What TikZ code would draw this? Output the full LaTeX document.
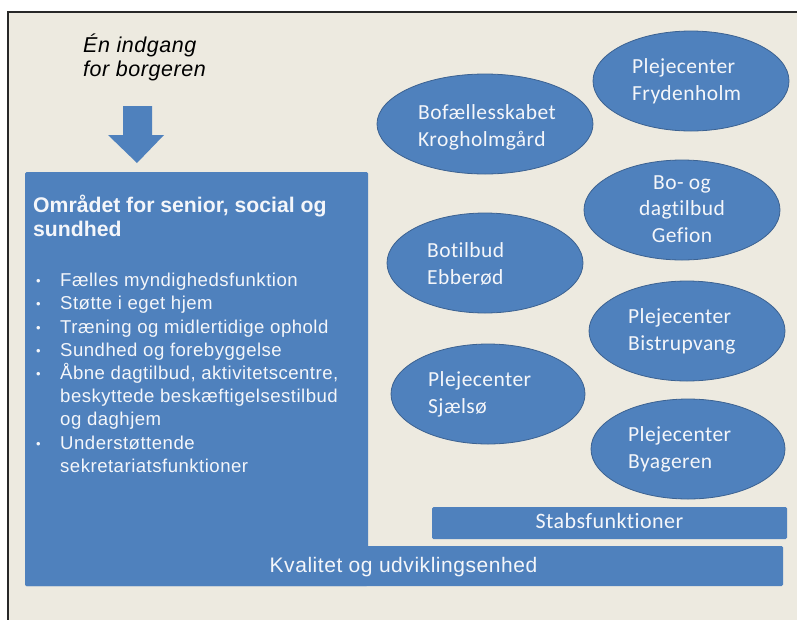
\documentclass[tikz,border=0pt]{standalone}
\usepackage{fontspec}
\setmainfont{Liberation Sans}
\newfontfamily\calfont[Ligatures=NoCommon,LetterSpace=2]{Carlito}
\newfontfamily\widefont[LetterSpace=2.6]{Liberation Sans}
\usetikzlibrary{shapes.geometric}
\definecolor{bg}{RGB}{237,234,224}
\definecolor{ofblue}{RGB}{79,129,189}
\definecolor{ofedge}{RGB}{60,98,145}
\definecolor{wtxt}{RGB}{244,246,250}
\tikzset{
  blk/.style={fill=ofblue, draw=none, rounded corners=1.5pt, inner sep=0pt},
  bubble/.style={ellipse, fill=ofblue, draw=ofedge, line width=0.8pt, inner sep=0pt},
  btxt/.style={text=wtxt, font=\calfont\fontsize{21.5}{26.5}\selectfont, inner sep=0pt, align=left, anchor=base west},
}
\begin{document}
\begin{tikzpicture}[x=1pt,y=-1pt]
\useasboundingbox (0,0) rectangle (797,619);
\fill[white] (0,0) rectangle (797,619);
\fill[bg] (8,12) rectangle (800,625);
\draw[line width=1.5pt, draw={rgb,255:red,40;green,40;blue,40}] (800,12) -- (8,12) -- (8,625);

% entry text and arrow
\node[anchor=base west, inner sep=0pt, align=left, font=\widefont\itshape\fontsize{21.5}{24}\selectfont] (entry) at (83,76) {Én indgang\\for borgeren};
\fill[ofblue] (123,106) -- (152,106) -- (152,135) -- (164,135) -- (137,163) -- (108,135) -- (123,135) -- cycle;

% main area
\node[blk, minimum width=343pt, minimum height=414pt] (main) at (196.5,379) {};
\node[blk, minimum width=758pt, minimum height=40pt] (kval) at (404,566) {};
\fill[ofblue] (25,540) rectangle (368,560);
\node[anchor=base, inner sep=0pt, text=wtxt, font=\widefont\fontsize{21}{24}\selectfont] (kvaltxt) at (403.5,572) {Kvalitet og udviklingsenhed};

\node[anchor=base west, inner sep=0pt, align=left, text=wtxt, font=\bfseries\fontsize{21.2}{24}\selectfont] (title) at (33,236) {Området for senior, social og\\sundhed};

\node[anchor=base west, inner sep=0pt, text=wtxt, font=\widefont\fontsize{18.6}{23.2}\selectfont] (list) at (36,286.7) {%
\begin{tabular}[t]{@{}p{24pt}@{}l@{}}
\raisebox{1pt}{\fontsize{13}{13}\selectfont•} & Fælles myndighedsfunktion\\
\raisebox{1pt}{\fontsize{13}{13}\selectfont•} & Støtte i eget hjem\\
\raisebox{1pt}{\fontsize{13}{13}\selectfont•} & Træning og midlertidige ophold\\
\raisebox{1pt}{\fontsize{13}{13}\selectfont•} & Sundhed og forebyggelse\\
\raisebox{1pt}{\fontsize{13}{13}\selectfont•} & Åbne dagtilbud, aktivitetscentre,\\
 & beskyttede beskæftigelsestilbud\\
 & og daghjem\\
\raisebox{1pt}{\fontsize{13}{13}\selectfont•} & Understøttende\\
 & sekretariatsfunktioner
\end{tabular}};

% staff bar
\node[blk, minimum width=355pt, minimum height=32pt] (stab) at (609.5,523) {};
\node[anchor=base, inner sep=0pt, text=wtxt, font=\calfont\fontsize{22}{24}\selectfont] (stabtxt) at (609.5,528) {Stabsfunktioner};

% ellipses
\node[bubble, minimum width=216pt, minimum height=100pt] (krog) at (485,124) {};
\node[btxt] (krogtxt) at (418,146) {Bofællesskabet\\Krogholmgård};

\node[bubble, minimum width=196pt, minimum height=100pt] (fryd) at (691,81) {};
\node[btxt] (frydtxt) at (632,100) {Plejecenter\\Frydenholm};

\node[bubble, minimum width=196pt, minimum height=100pt] (gef) at (682,210) {};
\node[btxt, align=center, anchor=base] (geftxt) at (682,242) {Bo- og\\dagtilbud\\Gefion};

\node[bubble, minimum width=196pt, minimum height=100pt] (ebb) at (485,263) {};
\node[btxt] (ebbtxt) at (427,284) {Botilbud\\Ebberød};

\node[bubble, minimum width=196pt, minimum height=100pt] (bis) at (687,331) {};
\node[btxt] (bistxt) at (628,350) {Plejecenter\\Bistrupvang};

\node[bubble, minimum width=194pt, minimum height=100pt] (sja) at (488,394) {};
\node[btxt] (sjatxt) at (428,413) {Plejecenter\\Sjælsø};

\node[bubble, minimum width=194pt, minimum height=100pt] (bya) at (688,449) {};
\node[btxt] (byatxt) at (628,468) {Plejecenter\\Byageren};
\end{tikzpicture}
\end{document}
